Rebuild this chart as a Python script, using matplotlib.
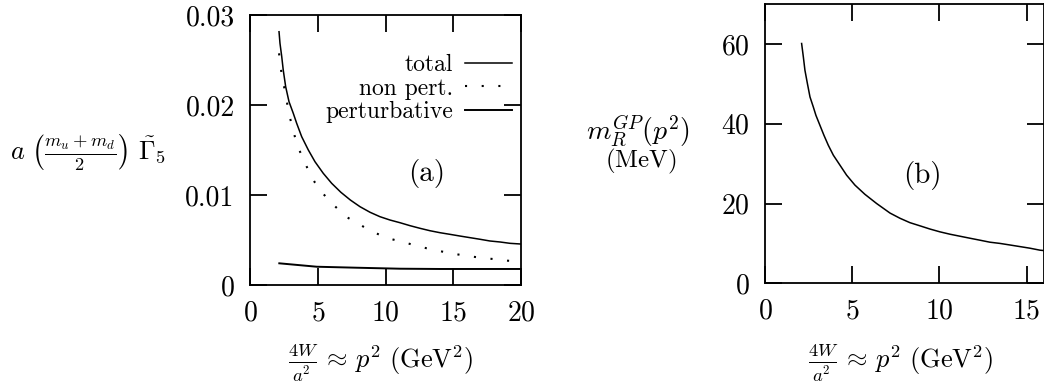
import matplotlib
matplotlib.use('Agg')
import matplotlib.pyplot as plt
import numpy as np

plt.rcParams['font.family'] = 'serif'
plt.rcParams['font.serif'] = ['cmr10', 'DejaVu Serif']
plt.rcParams['mathtext.fontset'] = 'cm'
plt.rcParams['axes.formatter.use_mathtext'] = True

# panel (a): a (m_u+m_d)/2 Gamma_5 vs 4W/a^2
x_total = [2.14, 2.21, 2.34, 2.45, 2.63, 2.875, 3.19, 3.44, 3.81, 4.30, 4.79,
           5.40, 6.02, 6.70, 7.40, 8.11, 8.85, 9.58, 10.32, 11.06, 11.80,
           12.53, 13.27, 14.01, 14.74, 15.48, 16.22, 16.96, 17.69, 18.43,
           19.17, 20.0]
y_total = [0.02814, 0.02686, 0.02537, 0.02389, 0.02203, 0.02037, 0.01908,
           0.01797, 0.01648, 0.0150, 0.0137, 0.01241, 0.01130, 0.01030,
           0.00944, 0.0087, 0.00808, 0.00759, 0.00722, 0.00692, 0.00659,
           0.0063, 0.00603, 0.00581, 0.00563, 0.00544, 0.00526, 0.00508,
           0.00489, 0.00478, 0.00463, 0.00455]

x_nonpert = [2.14, 2.26, 2.38, 2.58, 2.73, 2.875, 3.32, 3.61, 3.98, 4.35, 4.79,
             5.33, 5.90, 6.56, 7.18, 7.94, 8.77, 9.58, 10.39, 11.26, 12.09,
             13.02, 13.88, 14.74, 15.61, 16.46, 17.32, 18.13, 19.0, 19.9]
y_nonpert = [0.02574, 0.02426, 0.02286, 0.02159, 0.02026, 0.019, 0.01641,
             0.01508, 0.01381, 0.01259, 0.01137, 0.01026, 0.00926, 0.00833,
             0.0075, 0.00686, 0.00611, 0.00556, 0.00511, 0.00478, 0.00444,
             0.00408, 0.00381, 0.00352, 0.00333, 0.00314, 0.00297, 0.00286,
             0.0027, 0.00262]

x_pert = [2.16, 4.92, 7.87, 11.06, 14.0, 20.0]
y_pert = [0.00241, 0.00203, 0.00192, 0.00181, 0.00178, 0.00178]

# panel (b): m_R^GP(p^2) in MeV
x_mass = [2.10, 2.20, 2.29, 2.43, 2.58, 2.77, 2.92, 3.15, 3.38, 3.63, 3.92,
          4.30, 4.68, 5.16, 5.73, 6.40, 7.17, 7.74, 8.31, 8.89, 9.46, 10.03,
          10.61, 11.18, 11.75, 12.33, 12.9, 13.47, 14.05, 14.62, 15.19, 15.77,
          16.0]
y_mass = [60.1, 56.7, 53.4, 50.1, 46.7, 44.2, 42.1, 39.6, 37.1, 34.6, 32.1,
          29.6, 27.1, 24.6, 22.3, 20.0, 17.6, 16.3, 15.2, 14.4, 13.6, 12.9,
          12.3, 11.8, 11.3, 10.8, 10.3, 10.0, 9.6, 9.2, 8.8, 8.3, 8.2]

xticks_a = [0, 5, 10, 15, 20]
yticks_a = [0, 0.01, 0.02, 0.03]
yticklabels_a = ['0', '0.01', '0.02', '0.03']
xticks_b = [0, 5, 10, 15]
yticks_b = [0, 20, 40, 60]

W, H = 1044, 385
fig = plt.figure(figsize=(W / 100, H / 100), dpi=100)

def px_axes(x0, y0, x1, y1):
    return fig.add_axes([x0 / W, 1 - y1 / H, (x1 - x0) / W, (y1 - y0) / H])

ax1 = px_axes(250, 15, 521.3, 285)
ax2 = px_axes(765, 4, 1044, 283.3)

for ax in (ax1, ax2):
    for s in ax.spines.values():
        s.set_linewidth(1.3)
    ax.tick_params(direction='in', length=12, width=1.3, top=True, right=True,
                   labelsize=20)
    ax.tick_params(axis='x', pad=11)
    ax.tick_params(axis='y', pad=11)

lw = 1.1
ax1.plot(x_total, y_total, color='black', lw=lw, label='total')
ax1.plot(x_nonpert, y_nonpert, color='black', lw=1.5, ls=(0, (1, 7)),
         label='non pert.')
ax1.plot(x_pert, y_pert, color='black', lw=1.4, label='perturbative')
ax1.set_xlim(0, 20)
ax1.set_ylim(0, 0.03)
ax1.set_xticks(xticks_a)
ax1.set_yticks(yticks_a)
ax1.set_yticklabels(yticklabels_a)
ax1.text(13.0, 0.01244, '(a)', fontsize=21, ha='center', va='center')
leg = ax1.legend(loc='upper right', bbox_to_anchor=(0.965, 0.855),
                 frameon=False, markerfirst=False, fontsize=17,
                 handlelength=2.0, handletextpad=0.5, labelspacing=0.05,
                 borderaxespad=0, borderpad=0)

ax2.plot(x_mass, y_mass, color='black', lw=lw)
ax2.set_xlim(0, 16)
ax2.set_ylim(0, 70)
ax2.set_xticks(xticks_b)
ax2.set_yticks(yticks_b)
ax2.text(9.0, 27.1, '(b)', fontsize=21, ha='center', va='center')

xlab = r'$\frac{4W}{a^2}\,\approx\,p^2\ (\mathrm{GeV}^2)$'
fig.text(88 / W, 1 - 152 / H,
         r'$a\ \left(\frac{m_u+m_d}{2}\right)\ \tilde{\Gamma}_5$',
         fontsize=19, ha='center', va='center')
fig.text(381 / W, 1 - 363 / H, xlab, fontsize=19, ha='center', va='center')
fig.text(901 / W, 1 - 363 / H, xlab, fontsize=19, ha='center', va='center')
fig.text(638 / W, 1 - 131 / H, r'$m_R^{GP}(p^2)$', fontsize=20,
         ha='center', va='center')
fig.text(641 / W, 1 - 161 / H, r'$(\mathrm{MeV})$', fontsize=18,
         ha='center', va='center')

fig.savefig('out.png', dpi=100)
